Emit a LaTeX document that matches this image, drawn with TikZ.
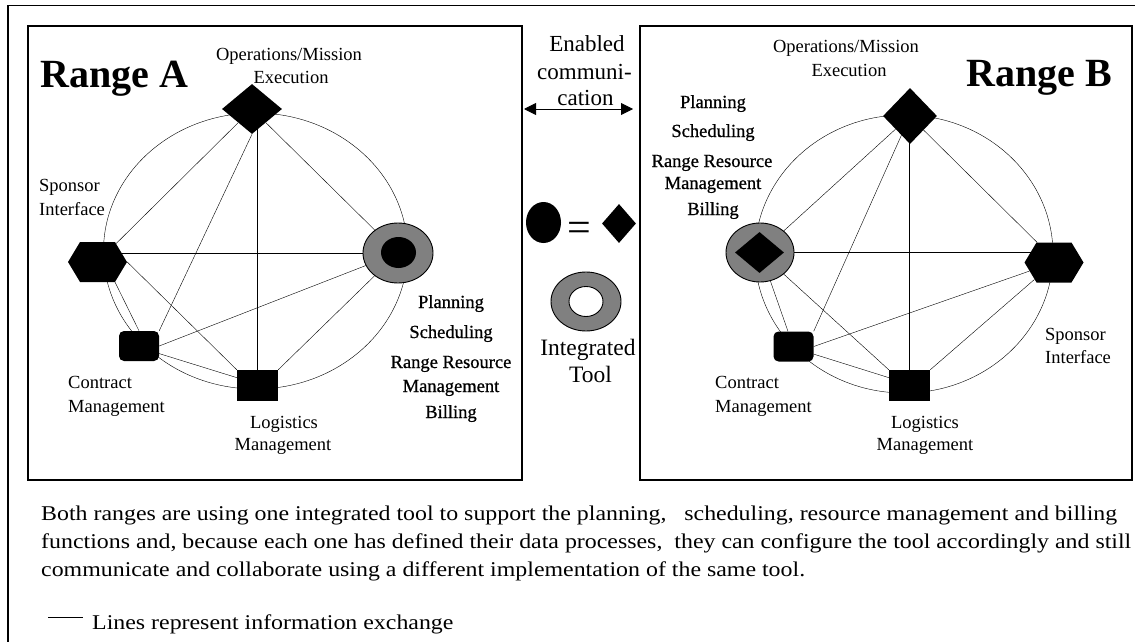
\documentclass[tikz,border=0pt]{standalone}
\usepackage{fontspec}
\usepackage{graphicx}
\setmainfont{Liberation Serif}
\newfontfamily\plfont[FakeBold=0.8]{Liberation Serif}
\usetikzlibrary{shapes.geometric,shapes.symbols,arrows.meta,backgrounds,calc}
\definecolor{ringgray}{HTML}{808080}
\newlength{\parawidth}
\newcommand{\myparaline}[1]{\scalebox{\pscale}[1]{#1}}
\begin{document}
\settowidth{\parawidth}{\fontsize{21}{25}\selectfont Both ranges are using one integrated tool to support the planning,\ \ \ scheduling, resource management and billing}%
\pgfmathsetmacro{\pscale}{1076/\parawidth}%
\begin{tikzpicture}[x=1pt,y=-1pt,
  conn/.style={line width=0.9pt},
  frame/.style={line width=1.2pt},
  lbl/.style={inner sep=0pt, font=\fontsize{18.5}{22}\selectfont},
  pl/.style={inner sep=0pt, font=\plfont\fontsize{18.5}{22}\selectfont},
  mid/.style={inner sep=0pt, font=\fontsize{23}{27}\selectfont},
  para/.style={inner sep=0pt, font=\fontsize{21}{25}\selectfont},
  titletext/.style={inner sep=0pt, font=\fontsize{40}{44}\selectfont\bfseries},
  opsshape/.style={diamond, fill=black, inner sep=0pt},
  hexshape/.style={signal, signal to=west and east, signal pointer angle=118, fill=black, inner sep=0pt, minimum width=59pt, minimum height=40pt},
  contractshape/.style={rectangle, rounded corners=5pt, fill=black, inner sep=0pt, minimum width=40pt, minimum height=30pt},
  logshape/.style={rectangle, fill=black, inner sep=0pt, minimum width=41pt, minimum height=31pt},
  ringshape/.style={ellipse, draw=black, line width=0.9pt, fill=ringgray, inner sep=0pt, minimum width=70pt, minimum height=60pt},
  dblarrow/.style={>={Triangle[length=12pt,width=12pt]}, <->}
]
\useasboundingbox (0,0) rectangle (1135,642);
\clip (0,0) rectangle (1135,642);

% frames
\draw[frame] (8,5.5) rectangle (1150,660);
\draw[frame] (28,26) rectangle (522,480);
\draw[frame] (640,26) rectangle (1132,480);

% ---------- Range A ----------
\node[titletext, anchor=base west] (titleA) at (40,88) {Range A};
\node[opsshape, minimum width=60pt, minimum height=50pt] (opsA) at (252,109) {};
\node[hexshape] (spA) at (97.5,262) {};
\node[contractshape] (coA) at (139,346) {};
\node[logshape] (loA) at (257.5,385.5) {};
\node[ringshape] (riA) at (398,253) {};
\node[ellipse, fill=black, inner sep=0pt, minimum width=35pt, minimum height=31pt] (riAin) at (398.5,252.5) {};

\node[lbl, anchor=base] (opsAl1) at (289,61) {Operations/Mission};
\node[lbl, anchor=base] (opsAl2) at (291,84) {Execution};
\node[lbl, anchor=base west] (spAl1) at (39,191) {Sponsor};
\node[lbl, anchor=base west] (spAl2) at (39,215) {Interface};
\node[lbl, anchor=base west] (coAl1) at (68,388) {Contract};
\node[lbl, anchor=base west] (coAl2) at (68,412) {Management};
\node[lbl, anchor=base] (loAl1) at (284,428) {Logistics};
\node[lbl, anchor=base] (loAl2) at (283,450) {Management};
\node[pl, anchor=base] (plA1) at (451,308) {Planning};
\node[pl, anchor=base] (plA2) at (451,338) {Scheduling};
\node[pl, anchor=base] (plA3) at (451,368) {Range Resource};
\node[pl, anchor=base] (plA4) at (451,392) {Management};
\node[pl, anchor=base] (plA5) at (451,418) {Billing};

\begin{scope}[on background layer, conn]
  \draw (255.5,251) ellipse [x radius=152, y radius=138];
  \draw (opsA) -- (spA);
  \draw (opsA.south) -- (coA.north east);
  \draw (loA) -- (loA |- opsA);
  \draw (opsA) -- (riA);
  \draw (riA) -- (riA -| spA);
  \draw (spA.east) -- (loA.north west);
  \draw (spA.-49) -- (coA.north);
  \draw (coA.east) -- (riA);
  \draw ($(coA.east)!0.5!(coA.south east)$) -- ($(loA.west)!0.5!(loA.north west)$);
  \draw (loA.north east) -- (riA);
\end{scope}

% ---------- Range B ----------
\node[titletext, anchor=base east] (titleB) at (1112,86) {Range B};
\node[opsshape, minimum width=54pt, minimum height=56pt] (opsB) at (910,116) {};
\node[hexshape] (spB) at (1054,262.5) {};
\node[contractshape] (coB) at (793.5,346.5) {};
\node[logshape] (loB) at (909.5,385.5) {};
\node[ringshape, minimum width=68pt, minimum height=59pt] (riB) at (760,252.5) {};
\node[diamond, fill=black, inner sep=0pt, minimum width=49pt, minimum height=41pt] (riBin) at (759.5,252.5) {};

\node[lbl, anchor=base] (opsBl1) at (846,53) {Operations/Mission};
\node[lbl, anchor=base] (opsBl2) at (849,77) {Execution};
\node[lbl, anchor=base west] (spBl1) at (1045,340) {Sponsor};
\node[lbl, anchor=base west] (spBl2) at (1045,363) {Interface};
\node[lbl, anchor=base west] (coBl1) at (715,388) {Contract};
\node[lbl, anchor=base west] (coBl2) at (715,412) {Management};
\node[lbl, anchor=base] (loBl1) at (925,428) {Logistics};
\node[lbl, anchor=base] (loBl2) at (925,450) {Management};
\node[pl, anchor=base] (plB1) at (713,108) {Planning};
\node[pl, anchor=base] (plB2) at (713,137) {Scheduling};
\node[pl, anchor=base] (plB3) at (712,167) {Range Resource};
\node[pl, anchor=base] (plB4) at (713,189) {Management};
\node[pl, anchor=base] (plB5) at (713,215) {Billing};

\begin{scope}[on background layer, conn]
  \draw (904,254) ellipse [x radius=149, y radius=139];
  \draw (opsB) -- (riB);
  \draw (opsB) -- (coB.north east);
  \draw (loB) -- (loB |- opsB);
  \draw (opsB.south east) -- (spB.130);
  \draw (riB) -- (riB -| spB);
  \draw (riB) -- (loB.north west);
  \draw (riB.-70) -- (coB.110);
  \draw (coB.east) -- (spB);
  \draw ($(coB.east)!0.5!(coB.south east)$) -- ($(loB.west)!0.5!(loB.north west)$);
  \draw (loB.north east) -- (spB);
\end{scope}

% ---------- middle ----------
\node[mid, anchor=base] (en1) at (587,52) {Enabled};
\node[mid, anchor=base] (en2) at (584.5,79) {communi-};
\node[mid, anchor=base] (en3) at (585.5,106) {cation};
\coordinate (arrL) at (524,109);
\coordinate (arrR) at (633,109);
\draw[conn, dblarrow] (arrL) -- (arrR);

\node[ellipse, fill=black, inner sep=0pt, minimum width=35pt, minimum height=41pt] (legOval) at (543.5,222.5) {};
\node[inner sep=0pt, font=\fontsize{42}{42}\selectfont] (legEq) at (579,231.5) {=};
\node[diamond, fill=black, inner sep=0pt, minimum width=34pt, minimum height=39pt] (legDia) at (619,223.5) {};
\node[ringshape, minimum width=70pt, minimum height=59pt] (legRing) at (586,301.5) {};
\node[ellipse, draw=black, line width=0.9pt, fill=white, inner sep=0pt, minimum width=34pt, minimum height=30pt] (legRingIn) at (586,301.5) {};
\node[inner sep=0pt, font=\fontsize{23.5}{27}\selectfont, anchor=base] (it1) at (588,355) {Integrated};
\node[inner sep=0pt, font=\fontsize{23.5}{27}\selectfont, anchor=base] (it2) at (590.5,382) {Tool};

% ---------- paragraph ----------
\node[para, anchor=base west] (p1) at (41,520) {\myparaline{Both ranges are using one integrated tool to support the planning,\ \ \ scheduling, resource management and billing}};
\node[para, anchor=base west] (p2) at (41,548) {\resizebox{1090pt}{\height}{functions and, because each one has defined their data processes,\ \ they can configure the tool accordingly and still}};
\node[para, anchor=base west] (p3) at (41,576) {\myparaline{communicate and collaborate using a different implementation of the same tool.}};

\coordinate (lgL) at (48,617);
\coordinate (lgR) at (83,617);
\draw[conn] (lgL) -- (lgR);
\node[para, anchor=base west] (lgText) at (92,629) {\myparaline{Lines represent information exchange}};
\end{tikzpicture}
\end{document}
